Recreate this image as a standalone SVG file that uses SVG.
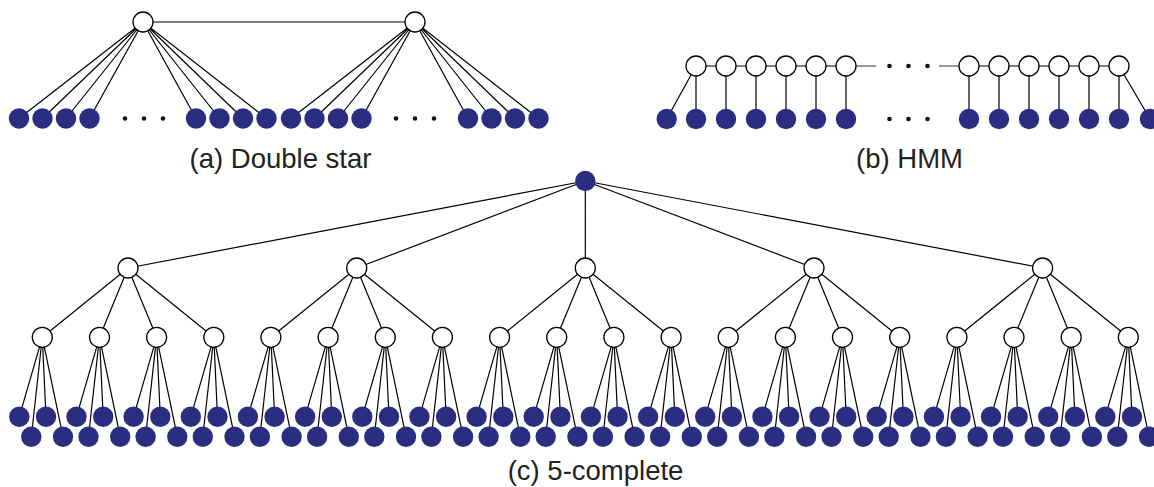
<svg xmlns="http://www.w3.org/2000/svg" width="1154" height="487" viewBox="0 0 1154 487">
<style>
.e{stroke:#000;stroke-width:1.2;fill:none}
.g{stroke:#777;stroke-width:1.6;fill:none}
.o{fill:#fff;stroke:#000;stroke-width:1.3}
.f{fill:#2b2e80}
.d{fill:#111}
.t{font-family:"Liberation Sans",Arial,sans-serif;font-size:27.5px;fill:#222;text-anchor:middle}
</style>
<rect width="1154" height="487" fill="#fff"/>
<g id="connectors">
<!-- double star -->
<path class="e" d="M143 22H415 M143 22L19 118.5 M143 22L42.5 118.5 M143 22L66 118.5 M143 22L89.5 118.5 M143 22L196 118.5 M143 22L219.5 118.5 M143 22L243 118.5 M143 22L266.5 118.5 M415 22L291 118.5 M415 22L314.5 118.5 M415 22L338 118.5 M415 22L361.5 118.5 M415 22L468 118.5 M415 22L491.5 118.5 M415 22L515 118.5 M415 22L538.5 118.5"/>
<!-- HMM -->
<path class="e" d="M696 66H846 M969 66H1119 M696 66L666.7 119 M696 66V119 M726 66V119 M756 66V119 M786 66V119 M816 66V119 M846 66V119 M969 66V119 M999 66V119 M1029 66V119 M1059 66V119 M1089 66V119 M1119 66V119 M1119 66L1150 119"/>
<path class="g" d="M856 66H876 M939 66H959"/>
<!-- 5-complete: root to level 1 -->
<path class="e" d="M585.3 181L128 268 M585.3 181L356.7 268 M585.3 181L585.3 268 M585.3 181L814 268 M585.3 181L1042.6 268"/>
<!-- level 1 to level 2 -->
<path class="e" d="M128 268L42.3 337.3 M128 268L99.5 337.3 M128 268L156.6 337.3 M128 268L213.8 337.3 M356.7 268L270.9 337.3 M356.7 268L328.1 337.3 M356.7 268L385.3 337.3 M356.7 268L442.4 337.3 M585.3 268L499.6 337.3 M585.3 268L556.7 337.3 M585.3 268L613.9 337.3 M585.3 268L671.1 337.3 M814 268L728.2 337.3 M814 268L785.4 337.3 M814 268L842.5 337.3 M814 268L899.7 337.3 M1042.6 268L956.9 337.3 M1042.6 268L1014 337.3 M1042.6 268L1071.2 337.3 M1042.6 268L1128.3 337.3"/>
<!-- level 2 to leaves -->
<path class="e" d="M42.3 337.3L19.3 416.7 M42.3 337.3L46 416.7 M42.3 337.3L31.3 436.7 M42.3 337.3L63 436.7
M99.5 337.3L76.5 416.7 M99.5 337.3L103.2 416.7 M99.5 337.3L88.5 436.7 M99.5 337.3L120.2 436.7
M156.6 337.3L133.6 416.7 M156.6 337.3L160.3 416.7 M156.6 337.3L145.6 436.7 M156.6 337.3L177.3 436.7
M213.8 337.3L190.8 416.7 M213.8 337.3L217.5 416.7 M213.8 337.3L202.8 436.7 M213.8 337.3L234.5 436.7
M270.9 337.3L247.9 416.7 M270.9 337.3L274.6 416.7 M270.9 337.3L259.9 436.7 M270.9 337.3L291.6 436.7
M328.1 337.3L305.1 416.7 M328.1 337.3L331.8 416.7 M328.1 337.3L317.1 436.7 M328.1 337.3L348.8 436.7
M385.3 337.3L362.3 416.7 M385.3 337.3L389 416.7 M385.3 337.3L374.3 436.7 M385.3 337.3L406 436.7
M442.4 337.3L419.4 416.7 M442.4 337.3L446.1 416.7 M442.4 337.3L431.4 436.7 M442.4 337.3L463.1 436.7
M499.6 337.3L476.6 416.7 M499.6 337.3L503.3 416.7 M499.6 337.3L488.6 436.7 M499.6 337.3L520.3 436.7
M556.7 337.3L533.7 416.7 M556.7 337.3L560.4 416.7 M556.7 337.3L545.7 436.7 M556.7 337.3L577.4 436.7
M613.9 337.3L590.9 416.7 M613.9 337.3L617.6 416.7 M613.9 337.3L602.9 436.7 M613.9 337.3L634.6 436.7
M671.1 337.3L648.1 416.7 M671.1 337.3L674.8 416.7 M671.1 337.3L660.1 436.7 M671.1 337.3L691.8 436.7
M728.2 337.3L705.2 416.7 M728.2 337.3L731.9 416.7 M728.2 337.3L717.2 436.7 M728.2 337.3L748.9 436.7
M785.4 337.3L762.4 416.7 M785.4 337.3L789.1 416.7 M785.4 337.3L774.4 436.7 M785.4 337.3L806.1 436.7
M842.5 337.3L819.5 416.7 M842.5 337.3L846.2 416.7 M842.5 337.3L831.5 436.7 M842.5 337.3L863.2 436.7
M899.7 337.3L876.7 416.7 M899.7 337.3L903.4 416.7 M899.7 337.3L888.7 436.7 M899.7 337.3L920.4 436.7
M956.9 337.3L933.9 416.7 M956.9 337.3L960.6 416.7 M956.9 337.3L945.9 436.7 M956.9 337.3L977.6 436.7
M1014 337.3L991 416.7 M1014 337.3L1017.7 416.7 M1014 337.3L1003 436.7 M1014 337.3L1034.7 436.7
M1071.2 337.3L1048.2 416.7 M1071.2 337.3L1074.9 416.7 M1071.2 337.3L1060.2 436.7 M1071.2 337.3L1091.9 436.7
M1128.3 337.3L1105.3 416.7 M1128.3 337.3L1132 416.7 M1128.3 337.3L1117.3 436.7 M1128.3 337.3L1149 436.7"/>
</g>

<!-- (a) Double star nodes -->
<g id="ds-hub-1"><circle class="o" cx="143" cy="22" r="10"/></g>
<g id="ds-hub-2"><circle class="o" cx="415" cy="22" r="10"/></g>
<g id="ds-leaf-1"><circle class="f" cx="19" cy="118.5" r="10.2"/></g>
<g id="ds-leaf-2"><circle class="f" cx="42.5" cy="118.5" r="10.2"/></g>
<g id="ds-leaf-3"><circle class="f" cx="66" cy="118.5" r="10.2"/></g>
<g id="ds-leaf-4"><circle class="f" cx="89.5" cy="118.5" r="10.2"/></g>
<g id="ds-leaf-5"><circle class="f" cx="196" cy="118.5" r="10.2"/></g>
<g id="ds-leaf-6"><circle class="f" cx="219.5" cy="118.5" r="10.2"/></g>
<g id="ds-leaf-7"><circle class="f" cx="243" cy="118.5" r="10.2"/></g>
<g id="ds-leaf-8"><circle class="f" cx="266.5" cy="118.5" r="10.2"/></g>
<g id="ds-leaf-9"><circle class="f" cx="291" cy="118.5" r="10.2"/></g>
<g id="ds-leaf-10"><circle class="f" cx="314.5" cy="118.5" r="10.2"/></g>
<g id="ds-leaf-11"><circle class="f" cx="338" cy="118.5" r="10.2"/></g>
<g id="ds-leaf-12"><circle class="f" cx="361.5" cy="118.5" r="10.2"/></g>
<g id="ds-leaf-13"><circle class="f" cx="468" cy="118.5" r="10.2"/></g>
<g id="ds-leaf-14"><circle class="f" cx="491.5" cy="118.5" r="10.2"/></g>
<g id="ds-leaf-15"><circle class="f" cx="515" cy="118.5" r="10.2"/></g>
<g id="ds-leaf-16"><circle class="f" cx="538.5" cy="118.5" r="10.2"/></g>
<g id="ds-dots">
<circle class="d" cx="125" cy="118.5" r="2.3"/><circle class="d" cx="144" cy="118.5" r="2.3"/><circle class="d" cx="163" cy="118.5" r="2.3"/>
<circle class="d" cx="396" cy="118.5" r="2.3"/><circle class="d" cx="415" cy="118.5" r="2.3"/><circle class="d" cx="434" cy="118.5" r="2.3"/>
</g>

<!-- (b) HMM nodes -->
<g id="hmm-h1"><circle class="o" cx="696" cy="66" r="10"/></g>
<g id="hmm-h2"><circle class="o" cx="726" cy="66" r="10"/></g>
<g id="hmm-h3"><circle class="o" cx="756" cy="66" r="10"/></g>
<g id="hmm-h4"><circle class="o" cx="786" cy="66" r="10"/></g>
<g id="hmm-h5"><circle class="o" cx="816" cy="66" r="10"/></g>
<g id="hmm-h6"><circle class="o" cx="846" cy="66" r="10"/></g>
<g id="hmm-h7"><circle class="o" cx="969" cy="66" r="10"/></g>
<g id="hmm-h8"><circle class="o" cx="999" cy="66" r="10"/></g>
<g id="hmm-h9"><circle class="o" cx="1029" cy="66" r="10"/></g>
<g id="hmm-h10"><circle class="o" cx="1059" cy="66" r="10"/></g>
<g id="hmm-h11"><circle class="o" cx="1089" cy="66" r="10"/></g>
<g id="hmm-h12"><circle class="o" cx="1119" cy="66" r="10"/></g>
<g id="hmm-o1"><circle class="f" cx="666.7" cy="119" r="10.2"/></g>
<g id="hmm-o2"><circle class="f" cx="696" cy="119" r="10.2"/></g>
<g id="hmm-o3"><circle class="f" cx="726" cy="119" r="10.2"/></g>
<g id="hmm-o4"><circle class="f" cx="756" cy="119" r="10.2"/></g>
<g id="hmm-o5"><circle class="f" cx="786" cy="119" r="10.2"/></g>
<g id="hmm-o6"><circle class="f" cx="816" cy="119" r="10.2"/></g>
<g id="hmm-o7"><circle class="f" cx="846" cy="119" r="10.2"/></g>
<g id="hmm-o8"><circle class="f" cx="969" cy="119" r="10.2"/></g>
<g id="hmm-o9"><circle class="f" cx="999" cy="119" r="10.2"/></g>
<g id="hmm-o10"><circle class="f" cx="1029" cy="119" r="10.2"/></g>
<g id="hmm-o11"><circle class="f" cx="1059" cy="119" r="10.2"/></g>
<g id="hmm-o12"><circle class="f" cx="1089" cy="119" r="10.2"/></g>
<g id="hmm-o13"><circle class="f" cx="1119" cy="119" r="10.2"/></g>
<g id="hmm-o14"><circle class="f" cx="1150" cy="119" r="10.2"/></g>
<g id="hmm-dots">
<circle class="d" cx="889.5" cy="66" r="2.3"/><circle class="d" cx="908.5" cy="66" r="2.3"/><circle class="d" cx="927.5" cy="66" r="2.3"/>
<circle class="d" cx="889.5" cy="119" r="2.3"/><circle class="d" cx="908.5" cy="119" r="2.3"/><circle class="d" cx="927.5" cy="119" r="2.3"/>
</g>

<!-- (c) 5-complete nodes -->
<g id="root"><circle class="f" cx="585.3" cy="181" r="10.2"/></g>
<g id="l1-1"><circle class="o" cx="128" cy="268" r="10"/></g>
<g id="l1-2"><circle class="o" cx="356.7" cy="268" r="10"/></g>
<g id="l1-3"><circle class="o" cx="585.3" cy="268" r="10"/></g>
<g id="l1-4"><circle class="o" cx="814" cy="268" r="10"/></g>
<g id="l1-5"><circle class="o" cx="1042.6" cy="268" r="10"/></g>
<g id="l2-1"><circle class="o" cx="42.3" cy="337.3" r="10"/></g>
<g id="l2-2"><circle class="o" cx="99.5" cy="337.3" r="10"/></g>
<g id="l2-3"><circle class="o" cx="156.6" cy="337.3" r="10"/></g>
<g id="l2-4"><circle class="o" cx="213.8" cy="337.3" r="10"/></g>
<g id="l2-5"><circle class="o" cx="270.9" cy="337.3" r="10"/></g>
<g id="l2-6"><circle class="o" cx="328.1" cy="337.3" r="10"/></g>
<g id="l2-7"><circle class="o" cx="385.3" cy="337.3" r="10"/></g>
<g id="l2-8"><circle class="o" cx="442.4" cy="337.3" r="10"/></g>
<g id="l2-9"><circle class="o" cx="499.6" cy="337.3" r="10"/></g>
<g id="l2-10"><circle class="o" cx="556.7" cy="337.3" r="10"/></g>
<g id="l2-11"><circle class="o" cx="613.9" cy="337.3" r="10"/></g>
<g id="l2-12"><circle class="o" cx="671.1" cy="337.3" r="10"/></g>
<g id="l2-13"><circle class="o" cx="728.2" cy="337.3" r="10"/></g>
<g id="l2-14"><circle class="o" cx="785.4" cy="337.3" r="10"/></g>
<g id="l2-15"><circle class="o" cx="842.5" cy="337.3" r="10"/></g>
<g id="l2-16"><circle class="o" cx="899.7" cy="337.3" r="10"/></g>
<g id="l2-17"><circle class="o" cx="956.9" cy="337.3" r="10"/></g>
<g id="l2-18"><circle class="o" cx="1014" cy="337.3" r="10"/></g>
<g id="l2-19"><circle class="o" cx="1071.2" cy="337.3" r="10"/></g>
<g id="l2-20"><circle class="o" cx="1128.3" cy="337.3" r="10"/></g>

<g id="leaf-1-1"><circle class="f" cx="19.3" cy="416.7" r="10.2"/></g><g id="leaf-1-2"><circle class="f" cx="46" cy="416.7" r="10.2"/></g><g id="leaf-1-3"><circle class="f" cx="31.3" cy="436.7" r="10.2"/></g><g id="leaf-1-4"><circle class="f" cx="63" cy="436.7" r="10.2"/></g>
<g id="leaf-2-1"><circle class="f" cx="76.5" cy="416.7" r="10.2"/></g><g id="leaf-2-2"><circle class="f" cx="103.2" cy="416.7" r="10.2"/></g><g id="leaf-2-3"><circle class="f" cx="88.5" cy="436.7" r="10.2"/></g><g id="leaf-2-4"><circle class="f" cx="120.2" cy="436.7" r="10.2"/></g>
<g id="leaf-3-1"><circle class="f" cx="133.6" cy="416.7" r="10.2"/></g><g id="leaf-3-2"><circle class="f" cx="160.3" cy="416.7" r="10.2"/></g><g id="leaf-3-3"><circle class="f" cx="145.6" cy="436.7" r="10.2"/></g><g id="leaf-3-4"><circle class="f" cx="177.3" cy="436.7" r="10.2"/></g>
<g id="leaf-4-1"><circle class="f" cx="190.8" cy="416.7" r="10.2"/></g><g id="leaf-4-2"><circle class="f" cx="217.5" cy="416.7" r="10.2"/></g><g id="leaf-4-3"><circle class="f" cx="202.8" cy="436.7" r="10.2"/></g><g id="leaf-4-4"><circle class="f" cx="234.5" cy="436.7" r="10.2"/></g>
<g id="leaf-5-1"><circle class="f" cx="247.9" cy="416.7" r="10.2"/></g><g id="leaf-5-2"><circle class="f" cx="274.6" cy="416.7" r="10.2"/></g><g id="leaf-5-3"><circle class="f" cx="259.9" cy="436.7" r="10.2"/></g><g id="leaf-5-4"><circle class="f" cx="291.6" cy="436.7" r="10.2"/></g>
<g id="leaf-6-1"><circle class="f" cx="305.1" cy="416.7" r="10.2"/></g><g id="leaf-6-2"><circle class="f" cx="331.8" cy="416.7" r="10.2"/></g><g id="leaf-6-3"><circle class="f" cx="317.1" cy="436.7" r="10.2"/></g><g id="leaf-6-4"><circle class="f" cx="348.8" cy="436.7" r="10.2"/></g>
<g id="leaf-7-1"><circle class="f" cx="362.3" cy="416.7" r="10.2"/></g><g id="leaf-7-2"><circle class="f" cx="389" cy="416.7" r="10.2"/></g><g id="leaf-7-3"><circle class="f" cx="374.3" cy="436.7" r="10.2"/></g><g id="leaf-7-4"><circle class="f" cx="406" cy="436.7" r="10.2"/></g>
<g id="leaf-8-1"><circle class="f" cx="419.4" cy="416.7" r="10.2"/></g><g id="leaf-8-2"><circle class="f" cx="446.1" cy="416.7" r="10.2"/></g><g id="leaf-8-3"><circle class="f" cx="431.4" cy="436.7" r="10.2"/></g><g id="leaf-8-4"><circle class="f" cx="463.1" cy="436.7" r="10.2"/></g>
<g id="leaf-9-1"><circle class="f" cx="476.6" cy="416.7" r="10.2"/></g><g id="leaf-9-2"><circle class="f" cx="503.3" cy="416.7" r="10.2"/></g><g id="leaf-9-3"><circle class="f" cx="488.6" cy="436.7" r="10.2"/></g><g id="leaf-9-4"><circle class="f" cx="520.3" cy="436.7" r="10.2"/></g>
<g id="leaf-10-1"><circle class="f" cx="533.7" cy="416.7" r="10.2"/></g><g id="leaf-10-2"><circle class="f" cx="560.4" cy="416.7" r="10.2"/></g><g id="leaf-10-3"><circle class="f" cx="545.7" cy="436.7" r="10.2"/></g><g id="leaf-10-4"><circle class="f" cx="577.4" cy="436.7" r="10.2"/></g>
<g id="leaf-11-1"><circle class="f" cx="590.9" cy="416.7" r="10.2"/></g><g id="leaf-11-2"><circle class="f" cx="617.6" cy="416.7" r="10.2"/></g><g id="leaf-11-3"><circle class="f" cx="602.9" cy="436.7" r="10.2"/></g><g id="leaf-11-4"><circle class="f" cx="634.6" cy="436.7" r="10.2"/></g>
<g id="leaf-12-1"><circle class="f" cx="648.1" cy="416.7" r="10.2"/></g><g id="leaf-12-2"><circle class="f" cx="674.8" cy="416.7" r="10.2"/></g><g id="leaf-12-3"><circle class="f" cx="660.1" cy="436.7" r="10.2"/></g><g id="leaf-12-4"><circle class="f" cx="691.8" cy="436.7" r="10.2"/></g>
<g id="leaf-13-1"><circle class="f" cx="705.2" cy="416.7" r="10.2"/></g><g id="leaf-13-2"><circle class="f" cx="731.9" cy="416.7" r="10.2"/></g><g id="leaf-13-3"><circle class="f" cx="717.2" cy="436.7" r="10.2"/></g><g id="leaf-13-4"><circle class="f" cx="748.9" cy="436.7" r="10.2"/></g>
<g id="leaf-14-1"><circle class="f" cx="762.4" cy="416.7" r="10.2"/></g><g id="leaf-14-2"><circle class="f" cx="789.1" cy="416.7" r="10.2"/></g><g id="leaf-14-3"><circle class="f" cx="774.4" cy="436.7" r="10.2"/></g><g id="leaf-14-4"><circle class="f" cx="806.1" cy="436.7" r="10.2"/></g>
<g id="leaf-15-1"><circle class="f" cx="819.5" cy="416.7" r="10.2"/></g><g id="leaf-15-2"><circle class="f" cx="846.2" cy="416.7" r="10.2"/></g><g id="leaf-15-3"><circle class="f" cx="831.5" cy="436.7" r="10.2"/></g><g id="leaf-15-4"><circle class="f" cx="863.2" cy="436.7" r="10.2"/></g>
<g id="leaf-16-1"><circle class="f" cx="876.7" cy="416.7" r="10.2"/></g><g id="leaf-16-2"><circle class="f" cx="903.4" cy="416.7" r="10.2"/></g><g id="leaf-16-3"><circle class="f" cx="888.7" cy="436.7" r="10.2"/></g><g id="leaf-16-4"><circle class="f" cx="920.4" cy="436.7" r="10.2"/></g>
<g id="leaf-17-1"><circle class="f" cx="933.9" cy="416.7" r="10.2"/></g><g id="leaf-17-2"><circle class="f" cx="960.6" cy="416.7" r="10.2"/></g><g id="leaf-17-3"><circle class="f" cx="945.9" cy="436.7" r="10.2"/></g><g id="leaf-17-4"><circle class="f" cx="977.6" cy="436.7" r="10.2"/></g>
<g id="leaf-18-1"><circle class="f" cx="991" cy="416.7" r="10.2"/></g><g id="leaf-18-2"><circle class="f" cx="1017.7" cy="416.7" r="10.2"/></g><g id="leaf-18-3"><circle class="f" cx="1003" cy="436.7" r="10.2"/></g><g id="leaf-18-4"><circle class="f" cx="1034.7" cy="436.7" r="10.2"/></g>
<g id="leaf-19-1"><circle class="f" cx="1048.2" cy="416.7" r="10.2"/></g><g id="leaf-19-2"><circle class="f" cx="1074.9" cy="416.7" r="10.2"/></g><g id="leaf-19-3"><circle class="f" cx="1060.2" cy="436.7" r="10.2"/></g><g id="leaf-19-4"><circle class="f" cx="1091.9" cy="436.7" r="10.2"/></g>
<g id="leaf-20-1"><circle class="f" cx="1105.3" cy="416.7" r="10.2"/></g><g id="leaf-20-2"><circle class="f" cx="1132" cy="416.7" r="10.2"/></g><g id="leaf-20-3"><circle class="f" cx="1117.3" cy="436.7" r="10.2"/></g><g id="leaf-20-4"><circle class="f" cx="1149" cy="436.7" r="10.2"/></g>

<g id="labels">
<text class="t" x="280.5" y="168">(a) Double star</text>
<text class="t" x="909.5" y="168">(b) HMM</text>
<text class="t" x="595.5" y="480">(c) 5-complete</text>
</g>
</svg>
